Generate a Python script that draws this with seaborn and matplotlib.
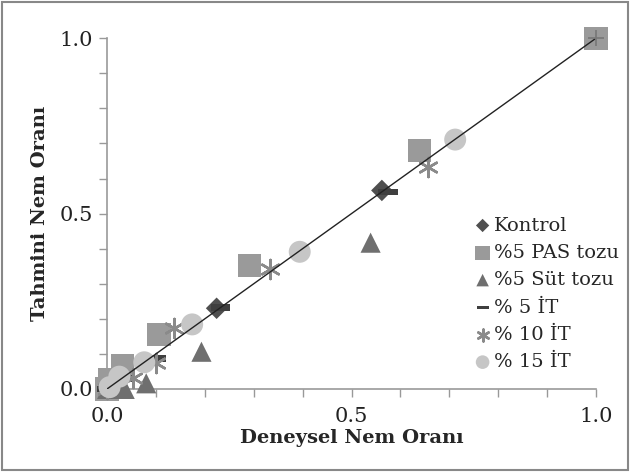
import numpy as np
import pandas as pd
import matplotlib
matplotlib.use('Agg')
import matplotlib.pyplot as plt
import seaborn as sns
from matplotlib.patches import Rectangle
from matplotlib.ticker import MultipleLocator, FormatStrFormatter

# Deneysel (x) ve tahmini (y) nem oranlari
kontrol_x = [0.0, 0.010, 0.224, 0.562, 1.0]
kontrol_y = [0.0, 0.010, 0.230, 0.566, 1.0]
pas_x = [0.0, 0.005, 0.032, 0.106, 0.292, 0.639, 1.0]
pas_y = [0.0, 0.026, 0.066, 0.156, 0.351, 0.680, 1.0]
sut_x = [0.0, 0.036, 0.080, 0.193, 0.539]
sut_y = [0.0, 0.000, 0.016, 0.106, 0.417]
it5_x = [0.0, 0.035, 0.100, 0.232, 0.575]
it5_y = [0.0, 0.030, 0.087, 0.232, 0.562]
it10_x = [0.0, 0.054, 0.101, 0.137, 0.334, 0.656]
it10_y = [0.0, 0.030, 0.073, 0.173, 0.341, 0.633]
it15_x = [0.005, 0.025, 0.076, 0.174, 0.394, 0.712]
it15_y = [0.005, 0.035, 0.076, 0.184, 0.391, 0.711]
line_x = [0.0, 1.0]
line_y = [0.0, 1.0]

dash = [(-1, -0.32), (1, -0.32), (1, 0.32), (-1, 0.32)]
series = [
    ('Kontrol', kontrol_x, kontrol_y, 'D', '#4f4f4f', 120),
    ('%5 PAS tozu', pas_x, pas_y, 's', '#9a9a9a', 280),
    ('%5 Süt tozu', sut_x, sut_y, '^', '#6f6f6f', 210),
    ('% 5 İT', it5_x, it5_y, dash, '#3f3f3f', 200),
    ('% 10 İT', it10_x, it10_y, (6, 2, 0), '#8a8a8a', 190),
    ('% 15 İT', it15_x, it15_y, 'o', '#c6c6c6', 250),
]

sns.set_style('white')
plt.rcParams['font.family'] = ['DejaVu Serif']

fig = plt.figure(figsize=(6.3, 4.72), dpi=100)
ax = fig.add_axes([0.170, 0.176, 0.776, 0.743])

ax.plot(line_x, line_y, color='#222222', lw=1.0, zorder=5)
ax.plot([1.0], [1.0], marker='+', color='#777777', ms=12, mew=1.2,
        zorder=6, clip_on=False)

for name, xs, ys, mk, col, s in series:
    df = pd.DataFrame({'x': xs, 'y': ys})
    if mk == (6, 2, 0):
        sns.scatterplot(data=df, x='x', y='y', ax=ax, marker=mk, color=col,
                        s=s, linewidth=1.8, label=name, clip_on=False, zorder=3)
    else:
        sns.scatterplot(data=df, x='x', y='y', ax=ax, marker=mk, color=col,
                        s=s, edgecolor='none', label=name, clip_on=False, zorder=3)

ax.set_xlim(0, 1)
ax.set_ylim(0, 1)
ax.xaxis.set_major_locator(MultipleLocator(0.5))
ax.yaxis.set_major_locator(MultipleLocator(0.5))
ax.xaxis.set_minor_locator(MultipleLocator(0.1))
ax.yaxis.set_minor_locator(MultipleLocator(0.1))
ax.xaxis.set_major_formatter(FormatStrFormatter('%.1f'))
ax.yaxis.set_major_formatter(FormatStrFormatter('%.1f'))
ax.tick_params(axis='both', which='both', direction='out', color='#999999',
               labelsize=15, labelcolor='#222222', length=6, width=1,
               bottom=True, left=True)
ax.tick_params(axis='x', pad=7)
ax.tick_params(axis='y', pad=4)
for side in ['top', 'right']:
    ax.spines[side].set_visible(False)
for side in ['left', 'bottom']:
    ax.spines[side].set_color('#999999')
    ax.spines[side].set_linewidth(1.2)

ax.set_xlabel('Deneysel Nem Oranı', fontsize=14, fontweight='bold', labelpad=2)
ax.set_ylabel('Tahmini Nem Oranı', fontsize=14, fontweight='bold', labelpad=8)

leg = ax.legend(loc='upper left', bbox_to_anchor=(0.729, 0.570),
                bbox_transform=fig.transFigure, frameon=False, fontsize=14,
                handletextpad=0.1, labelspacing=0.48, borderpad=0.2,
                handlelength=1.0, markerscale=0.62)

fig.patches.append(Rectangle((0.003, 0.004), 0.994, 0.992, transform=fig.transFigure,
                             fill=False, edgecolor='#888888', lw=1.5))

plt.savefig('out.png', dpi=100)
plt.close()
